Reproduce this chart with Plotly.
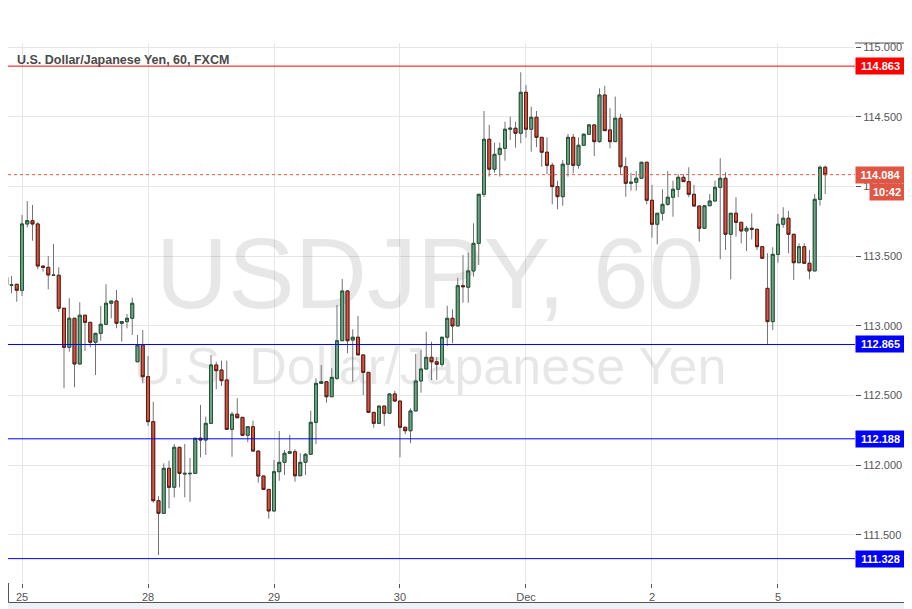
import plotly.graph_objects as go

# ---------------- data (USD/JPY, 60-minute bars) ----------------
opens = [113.347, 113.289, 113.297, 113.254, 113.730, 113.754, 113.730, 113.428, 113.419, 113.361,
         113.362, 113.125, 112.845, 113.053, 112.725, 113.075, 113.024, 112.881, 112.945, 113.010,
         113.161, 113.177, 113.017, 113.029, 113.053, 112.741, 112.861, 112.634, 112.311, 111.744,
         111.653, 111.976, 111.840, 112.127, 111.935, 111.937, 111.940, 112.192, 112.179, 112.299,
         112.718, 112.682, 112.610, 112.256, 112.364, 112.342, 112.213, 112.275, 112.100, 111.921,
         111.825, 111.670, 111.952, 112.019, 112.084, 112.095, 111.923, 112.019, 112.077, 112.306,
         112.586, 112.598, 112.490, 112.622, 112.892, 113.249, 112.897, 112.917, 112.790, 112.665,
         112.378, 112.299, 112.423, 112.371, 112.510, 112.459, 112.271, 112.246, 112.388, 112.603,
         112.689, 112.773, 112.741, 112.723, 112.917, 113.053, 112.998, 113.287, 113.276, 113.393,
         113.591, 113.943, 114.338, 114.123, 114.230, 114.273, 114.410, 114.417, 114.381, 114.675,
         114.410, 114.496, 114.352, 114.245, 114.151, 113.998, 113.926, 114.159, 114.352, 114.151,
         114.295, 114.374, 114.441, 114.321, 114.656, 114.405, 114.321, 114.489, 114.141, 114.022,
         114.029, 114.058, 114.173, 113.900, 113.728, 113.807, 113.871, 113.922, 113.979, 114.065,
         114.034, 113.943, 113.859, 113.699, 113.861, 113.895, 113.993, 114.058, 113.656, 113.807,
         113.742, 113.680, 113.699, 113.692, 113.567, 113.268, 113.029, 113.512, 113.728, 113.771,
         113.656, 113.452, 113.567, 113.448, 113.393, 113.907, 114.137]
highs = [113.364, 113.357, 113.300, 113.795, 113.895, 113.866, 113.742, 113.428, 113.500, 113.586,
         113.419, 113.125, 113.197, 113.053, 113.168, 113.075, 113.024, 112.945, 113.141, 113.297,
         113.177, 113.256, 113.029, 113.084, 113.201, 112.933, 112.969, 112.782, 112.454, 111.777,
         112.012, 112.031, 112.151, 112.127, 112.151, 112.050, 112.192, 112.431, 112.347, 112.790,
         112.741, 112.749, 112.749, 112.382, 112.479, 112.342, 112.275, 112.318, 112.100, 111.921,
         111.825, 112.036, 112.244, 112.108, 112.215, 112.113, 112.084, 112.084, 112.390, 112.622,
         112.718, 112.598, 112.694, 113.149, 113.335, 113.256, 112.974, 113.070, 112.790, 112.665,
         112.378, 112.423, 112.423, 112.510, 112.533, 112.459, 112.271, 112.407, 112.797, 112.825,
         112.957, 112.885, 112.773, 112.917, 113.143, 113.118, 113.344, 113.507, 113.524, 113.735,
         113.943, 114.541, 114.441, 114.314, 114.314, 114.464, 114.500, 114.464, 114.819, 114.728,
         114.572, 114.541, 114.352, 114.352, 114.170, 114.041, 114.189, 114.376, 114.376, 114.352,
         114.381, 114.448, 114.441, 114.704, 114.721, 114.561, 114.644, 114.520, 114.209, 114.098,
         114.110, 114.173, 114.173, 114.010, 113.807, 113.979, 114.110, 114.041, 114.087, 114.087,
         114.137, 114.010, 113.859, 113.861, 113.945, 114.041, 114.202, 114.101, 113.807, 113.922,
         113.742, 113.716, 113.807, 113.692, 113.567, 113.520, 113.563, 113.802, 113.850, 113.823,
         113.656, 113.591, 113.591, 113.543, 113.945, 114.149, 114.149]
lows = [113.278, 113.232, 113.172, 113.213, 113.706, 113.610, 113.405, 113.388, 113.261, 113.357,
        113.100, 112.551, 112.813, 112.558, 112.725, 112.820, 112.845, 112.646, 112.892, 113.010,
        113.053, 112.981, 112.885, 112.981, 112.933, 112.741, 112.586, 112.280, 111.729, 111.354,
        111.653, 111.689, 111.768, 111.840, 111.768, 111.736, 111.935, 112.055, 112.072, 112.299,
        112.543, 112.567, 112.256, 112.059, 112.339, 112.213, 112.165, 112.100, 111.873, 111.825,
        111.614, 111.670, 111.887, 111.928, 112.084, 111.880, 111.923, 111.928, 112.077, 112.149,
        112.586, 112.447, 112.490, 112.610, 112.892, 112.802, 112.598, 112.790, 112.502, 112.378,
        112.268, 112.294, 112.280, 112.371, 112.459, 112.055, 112.222, 112.156, 112.388, 112.519,
        112.689, 112.610, 112.610, 112.706, 112.854, 112.874, 112.998, 113.165, 113.165, 113.352,
        113.436, 113.922, 114.070, 114.098, 114.070, 114.184, 114.333, 114.278, 114.309, 114.350,
        114.249, 114.281, 114.141, 114.087, 113.871, 113.836, 113.861, 114.070, 114.094, 114.127,
        114.290, 114.369, 114.218, 114.314, 114.400, 114.273, 114.321, 114.089, 113.926, 113.969,
        113.969, 114.053, 113.871, 113.632, 113.584, 113.754, 113.861, 113.782, 113.922, 114.034,
        113.922, 113.859, 113.603, 113.699, 113.861, 113.895, 113.477, 113.543, 113.333, 113.639,
        113.591, 113.536, 113.620, 113.543, 113.484, 112.869, 112.969, 113.452, 113.703, 113.520,
        113.328, 113.452, 113.443, 113.333, 113.393, 113.861, 113.945]
closes = [113.292, 113.293, 113.254, 113.730, 113.754, 113.730, 113.428, 113.419, 113.364, 113.363,
          113.125, 112.845, 113.053, 112.725, 113.075, 113.024, 112.881, 112.945, 113.010, 113.161,
          113.177, 113.017, 113.029, 113.053, 113.161, 112.861, 112.634, 112.311, 111.744, 111.653,
          111.976, 111.840, 112.127, 111.940, 111.940, 111.940, 112.192, 112.179, 112.299, 112.718,
          112.677, 112.605, 112.256, 112.364, 112.339, 112.213, 112.275, 112.100, 111.921, 111.825,
          111.670, 111.952, 112.019, 112.084, 112.095, 111.923, 112.019, 112.077, 112.306, 112.586,
          112.598, 112.490, 112.629, 112.892, 113.249, 112.892, 112.917, 112.790, 112.665, 112.378,
          112.299, 112.423, 112.371, 112.510, 112.459, 112.271, 112.246, 112.388, 112.603, 112.689,
          112.773, 112.741, 112.723, 112.917, 113.053, 112.998, 113.287, 113.280, 113.393, 113.591,
          113.943, 114.338, 114.123, 114.230, 114.273, 114.410, 114.417, 114.381, 114.675, 114.410,
          114.496, 114.352, 114.245, 114.151, 113.998, 113.926, 114.159, 114.352, 114.151, 114.295,
          114.374, 114.441, 114.321, 114.656, 114.400, 114.321, 114.489, 114.141, 114.022, 114.029,
          114.058, 114.173, 113.900, 113.728, 113.807, 113.871, 113.922, 113.979, 114.065, 114.034,
          113.943, 113.859, 113.699, 113.861, 113.895, 113.993, 114.058, 113.656, 113.807, 113.742,
          113.680, 113.699, 113.692, 113.567, 113.484, 113.029, 113.512, 113.728, 113.771, 113.656,
          113.452, 113.567, 113.448, 113.393, 113.907, 114.137, 114.084]

first_bar = -3                      # bars shown before the Nov 25 session start
day_tick_bars = [0, 24, 48, 72, 96, 120, 144]
day_tick_labels = ["25", "28", "29", "30", "Dec", "2", "5"]
price_ticks = [111.5, 112.0, 112.5, 113.0, 113.5, 114.0, 114.5, 115.0]
resistance_levels = [114.863]
support_levels = [112.865, 112.188, 111.328]
last_price = closes[-1]
countdown = "10:42"
title_text = "U.S. Dollar/Japanese Yen, 60, FXCM"
wm_symbol = "USDJPY, 60"
wm_name = "U.S. Dollar/Japanese Yen"

bars = list(range(first_bar, first_bar + len(opens)))
body_hi = [max(o, c) for o, c in zip(opens, closes)]
body_lo = [min(o, c) for o, c in zip(opens, closes)]

# ---------------- layout geometry ----------------
OFF = 8                     # page body margin: figure starts 8 px in
W, H = 912 - OFF, 609 - OFF
L, R, T, B = 0, 57, 35, 26
PW, PH = W - L - R, H - T - B
x_range = [-2.667, 158.67]
y_range = [111.153, 115.029]

def px(xs):   # screen pixel -> paper x
    return (xs - OFF - L) / PW

def py(ys):   # screen pixel -> paper y
    return (H - B - (ys - OFF)) / PH

def data_x(xs):
    return x_range[0] + px(xs) * (x_range[1] - x_range[0])

def data_y(ys):
    return y_range[0] + py(ys) * (y_range[1] - y_range[0])

GREY = "#555555"
FONT = "Liberation Sans, Arial, sans-serif"
fig = go.Figure()

# watermark (behind candles)
fig.add_trace(go.Scatter(
    x=[data_x(430), data_x(430)], y=[data_y(283), data_y(371)],
    mode="text", text=[wm_symbol, wm_name],
    textfont=dict(size=[100, 52], color="rgba(0,0,0,0.095)", family=FONT),
    hoverinfo="skip", showlegend=False, zorder=-1, cliponaxis=False))

wick = dict(line=dict(color="#737375", width=1), fillcolor="#737375")
fig.add_trace(go.Candlestick(
    x=bars, open=opens, high=highs, low=lows, close=closes,
    increasing=wick, decreasing=wick, whiskerwidth=0,
    showlegend=False, hoverinfo="skip"))
fig.add_trace(go.Candlestick(
    x=bars, open=opens, high=body_hi, low=body_lo, close=closes,
    increasing=dict(line=dict(color="#225437", width=1), fillcolor="#6ba583"),
    decreasing=dict(line=dict(color="#5b1a13", width=1), fillcolor="#d75442"),
    whiskerwidth=0, showlegend=False, hoverinfo="skip"))

shapes = []
# white panel
shapes.append(dict(type="rect", xref="paper", yref="paper", x0=px(0), x1=px(906),
                   y0=py(603), y1=py(0), fillcolor="white", line=dict(width=0), layer="below"))
# outer frame pieces
frame = dict(color=GREY, width=1)
shapes.append(dict(type="line", xref="paper", yref="paper", x0=1, x1=px(905.5), y0=1, y1=1, line=frame))
shapes.append(dict(type="line", xref="paper", yref="paper", x0=px(905.5), x1=px(905.5), y0=1, y1=py(602.5), line=frame))
shapes.append(dict(type="line", xref="paper", yref="paper", x0=px(8.5), x1=px(905.5), y0=py(602.5), y1=py(602.5), line=frame))
shapes.append(dict(type="line", xref="paper", yref="paper", x0=px(8.5), x1=px(8.5), y0=0, y1=py(602.5), line=frame))

for lv in resistance_levels:
    shapes.append(dict(type="line", xref="paper", yref="y", x0=0, x1=1, y0=lv, y1=lv,
                       line=dict(color="#ff0000", width=1)))
for lv in support_levels:
    shapes.append(dict(type="line", xref="paper", yref="y", x0=0, x1=1, y0=lv, y1=lv,
                       line=dict(color="#0000ff", width=1)))
shapes.append(dict(type="line", xref="paper", yref="y", x0=0, x1=1, y0=last_price, y1=last_price,
                   line=dict(color="#e4553f", width=1, dash="dot")))

annotations = []
lab_font = dict(color="white", size=11, family=FONT, weight="bold")
for lv in resistance_levels:
    annotations.append(dict(xref="paper", yref="y", x=1, y=lv, xanchor="left", yanchor="middle",
                            text=f"{lv:.3f}", showarrow=False, bgcolor="#ff0000", font=lab_font,
                            width=46, height=13, borderpad=1.5, align="center"))
for lv in support_levels:
    annotations.append(dict(xref="paper", yref="y", x=1, y=lv, xanchor="left", yanchor="middle",
                            text=f"{lv:.3f}", showarrow=False, bgcolor="#0000ff", font=lab_font,
                            width=46, height=13, borderpad=1.5, align="center"))
annotations.append(dict(xref="paper", yref="y", x=1, y=last_price, xanchor="left", yanchor="middle",
                        text=f"{last_price:.3f}", showarrow=False, bgcolor="#df5744", font=lab_font,
                        width=46, height=13, borderpad=1.5, align="center"))
annotations.append(dict(xref="paper", yref="y", x=px(905), y=last_price, xanchor="right", yanchor="middle",
                        yshift=-17, text=countdown, showarrow=False, bgcolor="#df5744", font=lab_font,
                        width=31, height=13, borderpad=1.5, align="center"))
annotations.append(dict(xref="paper", yref="paper", x=px(15), y=py(60), xanchor="left", yanchor="middle",
                        text=title_text, showarrow=False,
                        font=dict(size=12.5, color="#4a4a4a", family=FONT, weight="bold")))

fig.update_layout(
    width=W, height=H,
    margin=dict(l=L, r=R, t=T, b=B, pad=0, autoexpand=False),
    paper_bgcolor="#eef1f6", plot_bgcolor="white",
    boxgap=0.2,
    showlegend=False,
    shapes=shapes, annotations=annotations,
    font=dict(family=FONT, color=GREY),
    xaxis=dict(range=x_range, tickvals=day_tick_bars, ticktext=day_tick_labels,
               showgrid=True, gridcolor="#e6e6e6", gridwidth=1, zeroline=False,
               ticks="outside", ticklen=4, tickcolor=GREY,
               tickfont=dict(size=11, color=GREY), automargin=False,
               showline=True, linecolor=GREY, linewidth=1, mirror=True,
               rangeslider=dict(visible=False), fixedrange=True),
    yaxis=dict(range=y_range, side="right", tickvals=price_ticks, tickformat=".3f",
               showgrid=True, gridcolor="#e6e6e6", gridwidth=1, zeroline=False,
               ticks="outside", ticklen=5, tickcolor=GREY,
               tickfont=dict(size=11, color=GREY), automargin=False,
               showline=True, linecolor=GREY, linewidth=1, mirror=True, fixedrange=True),
)

fig.write_html("out.html")
